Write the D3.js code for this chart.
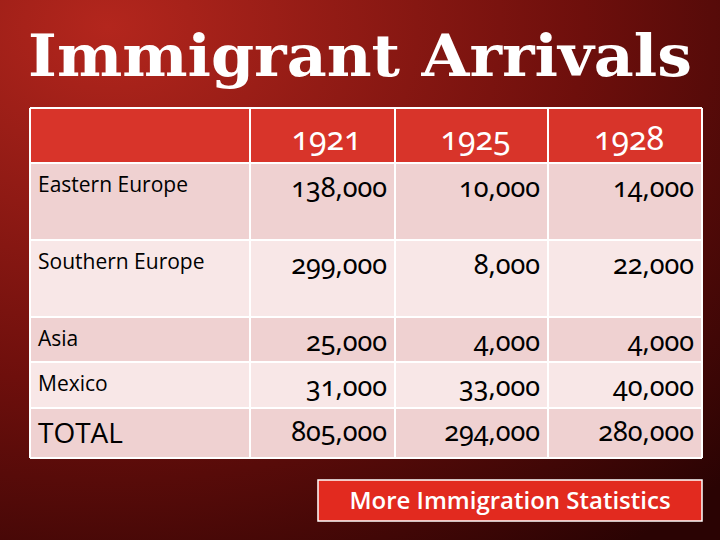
<!DOCTYPE html>
<html><head><meta charset="utf-8">
<script src="https://cdn.jsdelivr.net/npm/d3@7"></script>
<style>body{margin:0;overflow:hidden}</style>
</head><body>
<script>
// table data
const years = ["1921", "1925", "1928"];
const regions = ["Eastern Europe", "Southern Europe", "Asia", "Mexico", "TOTAL"];
const arrivals = [
  [138000, 10000, 14000],
  [299000, 8000, 22000],
  [25000, 4000, 4000],
  [31000, 33000, 40000],
  [805000, 294000, 280000]
];
const linkText = "More Immigration Statistics";

const W = 720, H = 540;
const svg = d3.select("body").append("svg").attr("width", W).attr("height", H);
const defs = svg.append("defs");
const grad = defs.append("radialGradient").attr("id", "bg")
  .attr("cx", "15%").attr("cy", "5%").attr("r", "120%");
grad.append("stop").attr("offset", "0%").attr("stop-color", "#b3261d");
grad.append("stop").attr("offset", "55%").attr("stop-color", "#6e0f0c");
grad.append("stop").attr("offset", "100%").attr("stop-color", "#2a0303");
svg.append("rect").attr("width", W).attr("height", H).attr("fill", "url(#bg)");

svg.append("text").attr("x", 360).attr("y", 76).attr("text-anchor", "middle")
  .attr("fill", "#fff").attr("font-family", "DejaVu Serif").attr("font-weight", "bold")
  .attr("font-size", 58).attr("textLength", 664).attr("lengthAdjust", "spacingAndGlyphs")
  .text("Immigrant Arrivals");

// column edges and row heights
const colX = [30, 250, 395, 548, 702];
const rowY = [108, 163, 240, 317, 362, 408, 458];
const fmt = d3.format(",");
const g = svg.append("g");

// header row
g.append("rect").attr("x", colX[0]).attr("y", rowY[0]).attr("width", colX[4] - colX[0])
  .attr("height", rowY[1] - rowY[0]).attr("fill", "#d8342a");
regions.forEach((r, i) => {
  g.append("rect").attr("x", colX[0]).attr("y", rowY[i + 1]).attr("width", colX[4] - colX[0])
    .attr("height", rowY[i + 2] - rowY[i + 1]).attr("fill", i % 2 ? "#f8e7e7" : "#efd1d1");
});
// grid
colX.forEach(x => g.append("line").attr("x1", x).attr("x2", x).attr("y1", rowY[0]).attr("y2", rowY[6])
  .attr("stroke", "#fff").attr("stroke-width", 2));
rowY.forEach(y => g.append("line").attr("x1", colX[0]).attr("x2", colX[4]).attr("y1", y).attr("y2", y)
  .attr("stroke", "#fff").attr("stroke-width", 2));

const numFont = "'Noto Sans', sans-serif";
years.forEach((y, j) => {
  g.append("text").attr("x", (colX[j + 1] + colX[j + 2]) / 2 + 4).attr("y", 150)
    .attr("text-anchor", "middle").attr("fill", "#fff").attr("font-family", numFont)
    .attr("font-size", 32).style("font-variant-numeric", "oldstyle-nums").text(y);
});
regions.forEach((r, i) => {
  const top = rowY[i + 1];
  const last = r === "TOTAL";
  g.append("text").attr("x", 38).attr("y", top + (last ? 35 : 29))
    .attr("fill", "#000").attr("font-family", "'Open Sans', sans-serif")
    .attr("font-size", last ? 28 : 21).text(r);
  arrivals[i].forEach((v, j) => {
    g.append("text").attr("x", colX[j + 2] - 8).attr("y", top + (last ? 33 : 34))
      .attr("text-anchor", "end").attr("fill", "#000").attr("font-family", numFont)
      .attr("font-size", 27).style("font-variant-numeric", "oldstyle-nums").text(fmt(v));
  });
});

// link button
svg.append("rect").attr("x", 318).attr("y", 480).attr("width", 384).attr("height", 41)
  .attr("fill", "#e22a1f").attr("stroke", "#fff").attr("stroke-width", 1.5);
svg.append("text").attr("x", 510).attr("y", 509).attr("text-anchor", "middle")
  .attr("fill", "#fff").attr("font-family", "'Open Sans', sans-serif").attr("font-size", 24)
  .attr("font-weight", 600).text(linkText);
</script>
</body></html>
